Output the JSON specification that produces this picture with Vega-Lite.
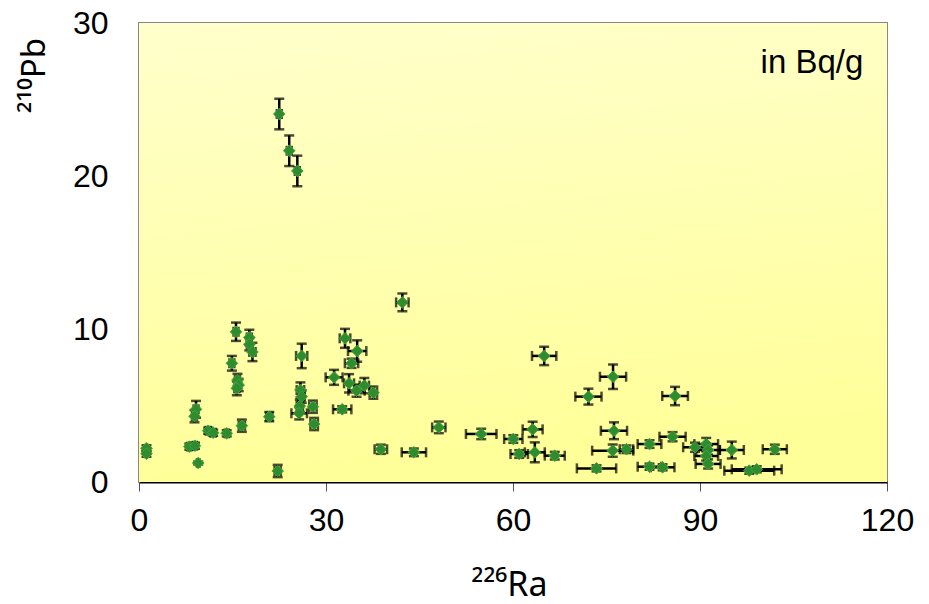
{
  "$schema": "https://vega.github.io/schema/vega-lite/v6.json",
  "width": 748,
  "height": 459,
  "autosize": {"type": "none"},
  "padding": {"left": 139, "top": 23, "right": 42, "bottom": 122},
  "background": "white",
  "config": {
    "font": "Liberation Sans",
    "view": {"stroke": "#888888", "strokeWidth": 2},
    "axis": {"grid": false, "labelColor": "black", "titleColor": "black", "titleFontWeight": "normal", "labelFont": "Liberation Sans", "titleFont": "Noto Sans"},
    "axisX": {"domainColor": "black", "domainWidth": 2, "tickColor": "#555555", "tickSize": 9, "tickWidth": 1, "labelFontSize": 32, "labelPadding": 14, "labelFlush": false, "titleFontSize": 34, "titleX": 370, "titleY": 113, "titleBaseline": "alphabetic", "titleAlign": "center"},
    "axisY": {"domainColor": "#888888", "domainWidth": 2, "ticks": false, "labelFontSize": 32, "labelPadding": 31, "titleFontSize": 33, "titleX": -105, "titleY": 52, "titleAngle": -90, "titleAlign": "center", "titleBaseline": "middle"}
  },
  "datasets": {
    "obs": [
      {"ra": 22.5, "pb": 24.05, "era": 0.4, "epb": 1.0},
      {"ra": 24.1, "pb": 21.65, "era": 0.4, "epb": 1.0},
      {"ra": 25.4, "pb": 20.33, "era": 0.4, "epb": 1.0},
      {"ra": 42.25, "pb": 11.74, "era": 1.0, "epb": 0.58},
      {"ra": 15.56, "pb": 9.82, "era": 0.4, "epb": 0.6},
      {"ra": 17.7, "pb": 9.45, "era": 0.4, "epb": 0.5},
      {"ra": 17.7, "pb": 9.0, "era": 0.4, "epb": 0.4},
      {"ra": 18.2, "pb": 8.5, "era": 0.5, "epb": 0.6},
      {"ra": 14.9, "pb": 7.76, "era": 0.4, "epb": 0.48},
      {"ra": 15.8, "pb": 6.67, "era": 0.4, "epb": 0.4},
      {"ra": 16.0, "pb": 6.34, "era": 0.4, "epb": 0.4},
      {"ra": 15.7, "pb": 6.12, "era": 0.4, "epb": 0.45},
      {"ra": 26.1, "pb": 8.24, "era": 0.9, "epb": 0.8},
      {"ra": 33.05, "pb": 9.39, "era": 0.85, "epb": 0.62},
      {"ra": 35.0, "pb": 8.56, "era": 1.47, "epb": 0.7},
      {"ra": 34.1, "pb": 7.76, "era": 1.07, "epb": 0.3},
      {"ra": 31.3, "pb": 6.84, "era": 1.36, "epb": 0.49},
      {"ra": 33.7, "pb": 6.45, "era": 0.8, "epb": 0.6},
      {"ra": 34.9, "pb": 5.97, "era": 1.3, "epb": 0.4},
      {"ra": 36.15, "pb": 6.3, "era": 0.75, "epb": 0.5},
      {"ra": 37.6, "pb": 5.84, "era": 0.6, "epb": 0.4},
      {"ra": 25.9, "pb": 6.01, "era": 0.6, "epb": 0.5},
      {"ra": 26.1, "pb": 5.58, "era": 0.5, "epb": 0.4},
      {"ra": 25.8, "pb": 4.97, "era": 0.5, "epb": 0.4},
      {"ra": 25.7, "pb": 4.49, "era": 1.25, "epb": 0.4},
      {"ra": 27.9, "pb": 4.92, "era": 0.6, "epb": 0.4},
      {"ra": 28.1, "pb": 3.79, "era": 0.6, "epb": 0.4},
      {"ra": 32.6, "pb": 4.75, "era": 1.47, "epb": 0.2},
      {"ra": 9.15, "pb": 4.75, "era": 0.4, "epb": 0.55},
      {"ra": 8.9, "pb": 4.3, "era": 0.4, "epb": 0.4},
      {"ra": 11.1, "pb": 3.35, "era": 0.4, "epb": 0.2},
      {"ra": 11.9, "pb": 3.22, "era": 0.4, "epb": 0.2},
      {"ra": 14.07, "pb": 3.18, "era": 0.3, "epb": 0.2},
      {"ra": 16.5, "pb": 3.68, "era": 0.5, "epb": 0.4},
      {"ra": 20.9, "pb": 4.27, "era": 0.5, "epb": 0.3},
      {"ra": 8.07, "pb": 2.31, "era": 0.3, "epb": 0.2},
      {"ra": 8.98, "pb": 2.37, "era": 0.3, "epb": 0.2},
      {"ra": 9.5, "pb": 1.24, "era": 0.2, "epb": 0.1},
      {"ra": 22.25, "pb": 0.72, "era": 0.5, "epb": 0.4},
      {"ra": 38.8, "pb": 2.14, "era": 1.0, "epb": 0.3},
      {"ra": 1.2, "pb": 2.2, "era": 0.1, "epb": 0.2},
      {"ra": 1.2, "pb": 1.85, "era": 0.1, "epb": 0.2},
      {"ra": 65.0, "pb": 8.24, "era": 1.95, "epb": 0.6},
      {"ra": 76.05, "pb": 6.88, "era": 2.1, "epb": 0.8},
      {"ra": 72.1, "pb": 5.58, "era": 2.1, "epb": 0.52},
      {"ra": 48.1, "pb": 3.57, "era": 1.07, "epb": 0.38},
      {"ra": 54.9, "pb": 3.14, "era": 2.45, "epb": 0.34},
      {"ra": 60.05, "pb": 2.81, "era": 1.47, "epb": 0.25},
      {"ra": 63.15, "pb": 3.44, "era": 1.6, "epb": 0.5},
      {"ra": 44.1, "pb": 1.94, "era": 1.95, "epb": 0.25},
      {"ra": 61.0, "pb": 1.83, "era": 1.4, "epb": 0.25},
      {"ra": 63.5, "pb": 1.94, "era": 1.6, "epb": 0.65},
      {"ra": 66.7, "pb": 1.72, "era": 1.6, "epb": 0.25},
      {"ra": 76.2, "pb": 3.35, "era": 2.1, "epb": 0.55},
      {"ra": 76.0, "pb": 2.05, "era": 3.3, "epb": 0.4},
      {"ra": 78.2, "pb": 2.14, "era": 1.07, "epb": 0.25},
      {"ra": 73.4, "pb": 0.89, "era": 3.15, "epb": 0.2},
      {"ra": 81.9, "pb": 2.48, "era": 1.9, "epb": 0.25},
      {"ra": 81.9, "pb": 1.0, "era": 1.9, "epb": 0.2},
      {"ra": 86.0, "pb": 5.62, "era": 2.06, "epb": 0.6},
      {"ra": 85.6, "pb": 2.96, "era": 2.1, "epb": 0.3},
      {"ra": 89.2, "pb": 2.27, "era": 1.9, "epb": 0.3},
      {"ra": 91.0, "pb": 2.48, "era": 1.9, "epb": 0.4},
      {"ra": 91.3, "pb": 2.09, "era": 1.9, "epb": 0.3},
      {"ra": 91.0, "pb": 1.7, "era": 1.9, "epb": 0.3},
      {"ra": 91.3, "pb": 1.18, "era": 2.0, "epb": 0.3},
      {"ra": 95.1, "pb": 2.09, "era": 1.93, "epb": 0.55},
      {"ra": 102.0, "pb": 2.14, "era": 1.93, "epb": 0.3},
      {"ra": 84.0, "pb": 0.96, "era": 1.9, "epb": 0.2},
      {"ra": 97.9, "pb": 0.74, "era": 4.0, "epb": 0.2},
      {"ra": 99.1, "pb": 0.83, "era": 4.0, "epb": 0.2}
    ]
  },
  "layer": [
    {
      "data": {"values": [{"panel": "bg"}]},
      "mark": {
        "type": "rect",
        "fill": {"gradient": "linear", "x1": 0, "y1": 0, "x2": 0.15, "y2": 1, "stops": [{"offset": 0, "color": "#FFFFCC"}, {"offset": 1, "color": "#FFFF99"}]}
      },
      "encoding": {
        "x": {"datum": 0, "type": "quantitative", "scale": {"domain": [0, 120], "nice": false}, "axis": {"values": [0, 30, 60, 90, 120]}, "title": "²²⁶Ra"},
        "x2": {"datum": 120},
        "y": {"datum": 0, "type": "quantitative", "scale": {"domain": [0, 30], "nice": false}, "axis": {"values": [0, 10, 20, 30]}, "title": "²¹⁰Pb"},
        "y2": {"datum": 30}
      }
    },
    {
      "data": {"name": "obs"},
      "mark": {"type": "errorbar", "ticks": {"size": 10}, "thickness": 2.5, "color": "black"},
      "encoding": {
        "x": {"field": "ra", "type": "quantitative", "title": "²²⁶Ra"},
        "y": {"field": "pb", "type": "quantitative", "title": "²¹⁰Pb"},
        "yError": {"field": "epb"}
      }
    },
    {
      "data": {"name": "obs"},
      "mark": {"type": "errorbar", "ticks": {"size": 10}, "thickness": 2.5, "color": "black"},
      "encoding": {
        "x": {"field": "ra", "type": "quantitative", "title": "²²⁶Ra"},
        "xError": {"field": "era"},
        "y": {"field": "pb", "type": "quantitative", "title": "²¹⁰Pb"}
      }
    },
    {
      "data": {"name": "obs"},
      "mark": {"type": "point", "shape": "diamond", "filled": true, "size": 135, "fill": "#2E8B2E", "stroke": "#3FA83F", "strokeWidth": 1, "opacity": 1},
      "encoding": {
        "x": {"field": "ra", "type": "quantitative", "title": "²²⁶Ra"},
        "y": {"field": "pb", "type": "quantitative", "title": "²¹⁰Pb"}
      }
    },
    {
      "data": {"values": [{"note": "in Bq/g"}]},
      "mark": {"type": "text", "align": "right", "baseline": "alphabetic", "fontSize": 33, "font": "Liberation Sans", "color": "black"},
      "encoding": {
        "x": {"datum": 116.2, "type": "quantitative", "title": "²²⁶Ra"},
        "y": {"datum": 26.7, "type": "quantitative", "title": "²¹⁰Pb"},
        "text": {"field": "note"}
      }
    }
  ]
}
